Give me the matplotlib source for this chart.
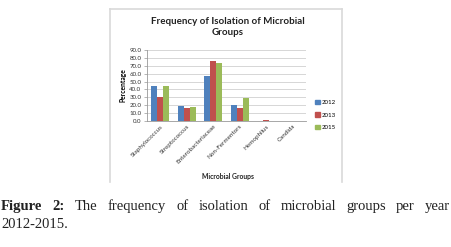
import numpy as np
import matplotlib.pyplot as plt
from matplotlib.lines import Line2D
from matplotlib.patches import Patch

groups = ['Staphylococcus', 'Streptococcus', 'Enterobacteriaceae',
          'Non-Fermentors', 'Hemophilus', 'Candida']
years = ['2012', '2013', '2015']
v2012 = [44.0, 19.0, 57.0, 20.0, 0.5, 0.3]
v2013 = [31.0, 16.5, 76.0, 16.5, 1.2, 0.3]
v2015 = [45.0, 18.0, 73.5, 29.0, 0.3, 0.3]
colors = ['#4F81BD', '#C0504D', '#9BBB59']
yticks = np.arange(0, 91, 10)

W, H = 451, 247
fig = plt.figure(figsize=(W / 100, H / 100), dpi=100)
fig.patch.set_facecolor('white')

# chart frame (light grey, as in the pasted Excel chart)
for xs, ys in [([110, 110], [9, 182]), ([342, 342], [9, 182]), ([110, 342], [9, 9])]:
    fig.add_artist(Line2D([x / W for x in xs], [1 - y / H for y in ys],
                          color='#d9d9d9', lw=1.2))

ax = fig.add_axes([147 / W, 1 - 121 / H, (306 - 147) / W, (121 - 50) / H])
x = np.arange(len(groups))
bw = 0.23
for i, (vals, c, lab) in enumerate(zip([v2012, v2013, v2015], colors, years)):
    ax.bar(x + (i - 1) * bw, vals, bw, color=c, label=lab, zorder=3)

ax.set_xlim(-0.5, len(groups) - 0.5)
ax.set_ylim(0, 90)
ax.set_yticks(yticks)
ax.set_yticklabels([f'{t:.1f}' for t in yticks], fontsize=4.4, color='#333333',
                   family='Lato')
ax.yaxis.grid(True, color='#d0d0d0', lw=0.6, zorder=0)
ax.set_xticks(x)
ax.set_xticklabels(groups, rotation=45, ha='right', rotation_mode='anchor',
                   fontsize=4.5, color='#333333', family='Lato')
ax.tick_params(axis='y', length=2.5, width=0.5, color='#999999', pad=1.5)
ax.tick_params(axis='x', length=0, pad=2)
for s in ['top', 'right']:
    ax.spines[s].set_visible(False)
for s in ['left', 'bottom']:
    ax.spines[s].set_color('#999999')
    ax.spines[s].set_linewidth(0.6)

ax.set_ylabel('Percentage', fontsize=4.8, fontweight='bold', family='Lato',
              labelpad=2)

fig.text(228 / W, 1 - 27 / H, 'Frequency of Isolation of Microbial\nGroups',
         ha='center', va='center', fontsize=7, fontweight='bold', family='Lato',
         linespacing=1.25, color='#222222')
fig.text(228 / W, 1 - 177 / H, 'Microbial Groups', ha='center', va='center',
         fontsize=4.9, fontweight='bold', family='Lato', color='#222222')

handles = [Patch(color=c) for c in colors]
fig.legend(handles, years, loc='center left', bbox_to_anchor=(313 / W, 1 - 115 / H),
           frameon=False, prop={'family': 'Lato', 'size': 4.4},
           handlelength=0.7, handleheight=0.7, handletextpad=0.3,
           labelspacing=1.2, borderaxespad=0)

# caption, justified first line
fig.canvas.draw()
r = fig.canvas.get_renderer()
words = [('Figure', 'bold'), ('2:', 'bold'), ('The', 'normal'), ('frequency', 'normal'),
         ('of', 'normal'), ('isolation', 'normal'), ('of', 'normal'),
         ('microbial', 'normal'), ('groups', 'normal'), ('per', 'normal'),
         ('year', 'normal')]
arts = []
total = 0
for w, wt in words:
    t = fig.text(0, 1 - 206 / H, w, fontsize=10.5, fontweight=wt,
                 family='Liberation Serif', va='center', color='#222222')
    wpx = t.get_window_extent(r).width
    arts.append((t, wpx))
    total += wpx
gap = (W - 2 - total) / (len(words) - 1)
pos = 1
for t, wpx in arts:
    t.set_x(pos / W)
    pos += wpx + gap
fig.text(1 / W, 1 - 224 / H, '2012-2015.', fontsize=10.5, family='Liberation Serif',
         va='center', color='#222222')

fig.savefig('out.png', dpi=100)
